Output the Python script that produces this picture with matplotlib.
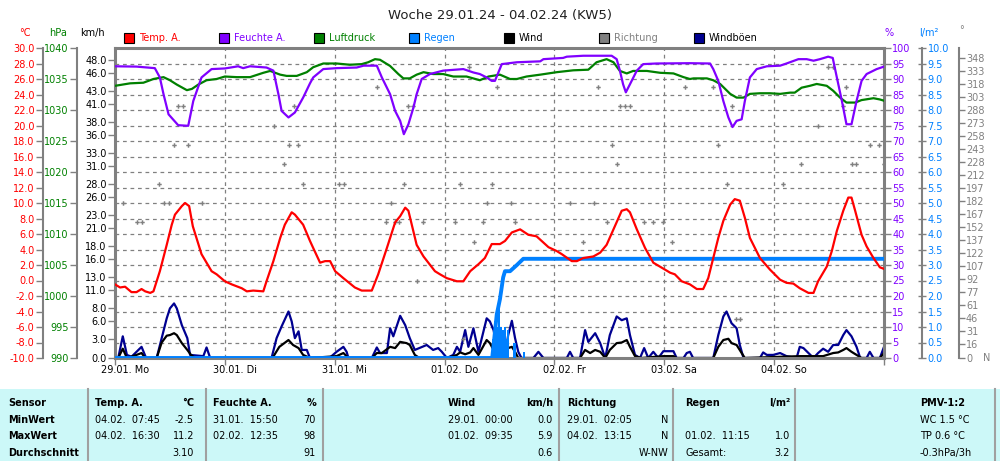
import matplotlib
matplotlib.use('Agg')
import matplotlib.pyplot as plt
from matplotlib.patches import Rectangle
from matplotlib.lines import Line2D
from matplotlib.ticker import MultipleLocator, FormatStrFormatter

# ---- data (hours since 29.01. 00:00) ----
temp_h = [0, 1.1, 2.2, 3.6, 4.7, 5.8, 6.6, 7.7, 8.4, 9.8,
          11.3, 12.4, 13.1, 14.6, 15.3, 16.2, 17.0, 18.9, 21.1, 22.2,
          24.0, 25.5, 27.7, 28.8, 30.2, 32.4, 33.1, 34.6, 36.1, 37.1,
          38.6, 39.3, 41.1, 42.6, 43.3, 44.8, 45.9, 47.0, 48.1, 49.9,
          52.4, 53.9, 56.1, 57.5, 59.4, 61.2, 62.3, 63.4, 64.1, 65.9,
          67.4, 69.9, 71.0, 72.5, 74.7, 76.1, 77.6, 79.4, 80.8, 82.3,
          84.1, 85.2, 86.7, 88.5, 90.3, 92.1, 94.7, 96.5, 97.6, 99.8,
          100.9, 102.3, 104.5, 106.0, 107.4, 109.2, 110.7, 111.8, 112.5, 114.0,
          115.8, 117.6, 121.3, 122.3, 123.8, 125.6, 127.1, 128.5, 129.6, 130.7,
          131.8, 132.9, 134.4, 135.4, 136.5, 137.6, 138.7, 140.9, 143.1, 145.3,
          146.7, 148.2, 149.6, 151.5, 152.6, 153.6, 155.5, 156.6, 157.7, 159.1,
          160.2, 160.9, 161.7, 163.1, 164.2, 165.7, 167.1, 168]
temp = [-0.5, -0.9, -0.8, -1.5, -1.5, -1.1, -1.4, -1.6, -1.4, 1.2,
        4.6, 7.2, 8.5, 9.6, 10.0, 9.6, 7.0, 3.4, 1.2, 0.8,
        -0.1, -0.5, -1.0, -1.4, -1.3, -1.4, -0.1, 2.5, 5.5, 7.2,
        8.8, 8.5, 7.2, 5.1, 4.2, 2.3, 2.5, 2.5, 1.2, 0.3,
        -0.9, -1.3, -1.3, 0.8, 4.2, 7.5, 8.3, 9.4, 9.0, 4.6,
        3.1, 1.2, 0.8, 0.3, -0.1, -0.1, 1.2, 2.1, 2.9, 4.7,
        4.7, 5.1, 6.2, 6.6, 5.9, 5.7, 4.3, 3.8, 3.4, 2.5,
        2.5, 2.9, 3.1, 3.6, 4.6, 7.0, 9.0, 9.2, 8.8, 6.6,
        4.2, 2.3, 1.0, 0.8, -0.1, -0.5, -1.1, -1.1, 0.3, 2.9,
        5.5, 7.7, 9.8, 10.5, 10.3, 8.1, 5.5, 2.9, 1.4, 0.1,
        -0.3, -0.4, -1.0, -1.6, -1.6, -0.1, 1.8, 3.8, 6.4, 9.0,
        10.7, 10.7, 9.0, 5.9, 4.4, 2.9, 1.7, 1.5]

hum_h = [0, 4.7, 8.7, 9.8, 10.6, 11.7, 13.8, 16.0, 17.1, 18.9,
         21.1, 24.0, 26.9, 28.0, 29.5, 33.1, 34.6, 35.7, 36.4, 37.9,
         39.3, 41.1, 42.6, 43.3, 45.5, 48.4, 52.8, 54.3, 57.2, 58.3,
         60.1, 61.2, 62.3, 63.1, 64.1, 65.2, 65.9, 67.0, 68.8, 71.7,
         76.1, 78.3, 79.7, 81.2, 82.3, 83.0, 84.5, 87.8, 92.9, 93.6,
         97.9, 98.7, 102.3, 108.5, 109.6, 110.3, 111.0, 111.6, 112.5, 114.0,
         115.4, 118.3, 125.6, 130.0, 130.7, 131.8, 132.9, 134.0, 134.9, 135.8,
         136.9, 137.6, 138.7, 140.2, 142.4, 145.3, 146.7, 149.3, 151.1, 152.6,
         154.0, 155.8, 156.8, 157.7, 158.8, 159.8, 160.9, 162.0, 163.1, 164.2,
         166.4, 168]
hum = [94.1, 94.0, 93.5, 90.5, 85.1, 78.6, 75.1, 74.9, 82.9, 90.5,
       93.2, 93.4, 94.1, 93.5, 94.1, 93.7, 92.7, 85.1, 79.7, 77.6,
       79.2, 84.0, 88.6, 90.5, 93.2, 93.5, 93.7, 94.3, 94.3, 90.5,
       85.1, 79.7, 76.5, 72.2, 75.4, 80.8, 85.1, 90.0, 91.6, 92.7,
       93.2, 92.1, 91.6, 90.5, 89.4, 89.4, 94.8, 95.4, 95.7, 96.4,
       96.8, 97.2, 97.5, 97.5, 96.4, 92.7, 88.3, 85.7, 88.3, 92.7,
       94.8, 95.0, 95.1, 95.0, 93.2, 89.4, 82.9, 77.6, 74.5, 76.5,
       77.0, 82.9, 90.5, 93.2, 94.1, 94.3, 95.0, 96.4, 96.4, 95.9,
       96.4, 97.2, 96.8, 90.5, 82.9, 75.4, 75.4, 82.9, 89.4, 91.6,
       93.2, 94.0]

pres_h = [0, 3.3, 6.2, 8.4, 10.6, 12.0, 13.5, 15.7, 16.8, 18.2,
          20.0, 22.2, 24.0, 26.6, 29.5, 32.4, 33.9, 36.1, 37.5, 39.7,
          41.9, 43.3, 45.5, 48.4, 51.3, 53.9, 55.3, 56.8, 57.9, 60.1,
          61.9, 63.0, 64.4, 65.9, 67.4, 69.5, 71.7, 73.9, 76.8, 79.7,
          81.6, 84.1, 86.3, 87.8, 89.9, 92.9, 96.5, 100.1, 103.4, 105.2,
          107.4, 108.9, 110.3, 111.8, 113.2, 116.2, 119.1, 122.0, 124.2, 125.6,
          126.4, 129.3, 130.7, 132.2, 134.4, 135.8, 137.3, 138.7, 140.9, 143.1,
          145.3, 147.5, 148.5, 150.0, 151.8, 153.3, 155.5, 156.9, 158.4, 159.8,
          161.7, 163.1, 165.7, 167.1, 168]
pres = [1033.9, 1034.3, 1034.4, 1035.0, 1035.3, 1034.8, 1034.1, 1033.2, 1033.4, 1034.1,
        1034.8, 1035.0, 1035.4, 1035.3, 1035.3, 1036.0, 1036.3, 1035.7, 1035.5, 1035.5,
        1036.1, 1036.9, 1037.5, 1037.5, 1037.3, 1037.4, 1037.7, 1038.2, 1038.1, 1037.1,
        1035.8, 1035.1, 1035.1, 1035.7, 1036.1, 1035.8, 1035.8, 1035.4, 1035.4, 1034.8,
        1035.4, 1035.7, 1035.0, 1035.0, 1035.4, 1035.7, 1036.1, 1036.4, 1036.5, 1037.7,
        1038.2, 1037.7, 1036.3, 1035.9, 1036.3, 1036.3, 1036.0, 1035.9, 1035.3, 1035.0,
        1035.1, 1035.1, 1034.8, 1034.2, 1032.6, 1032.0, 1032.0, 1032.6, 1032.7, 1032.7,
        1032.6, 1032.8, 1032.8, 1033.6, 1033.9, 1034.2, 1033.9, 1033.1, 1032.0, 1031.2,
        1031.2, 1031.6, 1031.9, 1031.7, 1031.5]

gust_h = [0, 0.7, 1.7, 2.6, 3.6, 4.7, 5.8, 6.8, 9.1, 10.2,
          11.3, 12.0, 12.9, 13.5, 14.6, 15.8, 16.4, 19.3, 20.0, 20.8,
          34.2, 35.3, 36.4, 37.9, 38.6, 39.3, 40.1, 40.8, 41.9, 42.6,
          47.0, 48.4, 49.9, 50.6, 51.0, 56.1, 57.2, 57.9, 59.4, 60.1,
          60.8, 62.3, 63.4, 64.4, 65.5, 68.1, 69.5, 70.6, 71.4, 72.5,
          73.9, 74.7, 75.4, 76.5, 77.2, 78.3, 79.4, 81.2, 81.9, 82.7,
          83.4, 84.1, 85.2, 85.9, 86.7, 87.4, 88.1, 88.8, 91.4, 92.5,
          93.6, 98.7, 99.4, 100.1, 101.6, 102.7, 103.4, 104.9, 106.0, 107.1,
          108.1, 109.6, 110.7, 111.8, 112.5, 113.6, 114.7, 115.6, 116.5, 117.6,
          118.7, 119.8, 122.0, 122.7, 124.2, 124.9, 125.6, 126.3, 130.7, 131.8,
          132.9, 133.6, 134.7, 135.8, 136.5, 137.3, 140.9, 141.6, 142.4, 143.8,
          145.3, 146.7, 148.9, 149.6, 150.4, 151.5, 152.6, 153.6, 154.7, 155.8,
          156.9, 158.0, 159.1, 159.8, 160.9, 162.0, 162.8, 164.2, 164.9, 165.7,
          167.1, 168]
gust = [0, 0, 3.5, 0.5, 0.2, 1.0, 1.8, 0, 0, 3.2,
        6.4, 8.0, 8.8, 8.0, 5.3, 3.2, 0.5, 0.3, 1.7, 0,
        0, 3.2, 5.1, 7.5, 5.9, 3.2, 4.3, 1.3, 1.3, 0,
        0.1, 1.0, 1.8, 1.0, 0, 0, 1.7, 0.8, 0.8, 4.8,
        3.5, 6.8, 5.3, 3.2, 1.3, 2.1, 1.3, 1.6, 1.0, 0,
        0.5, 1.8, 1.0, 4.5, 1.8, 4.8, 1.0, 6.4, 5.9, 4.5,
        1.8, 0.5, 0.5, 3.7, 6.0, 3.2, 1.0, 0, 0, 1.0,
        0, 0, 1.0, 0, 0, 4.5, 2.6, 4.0, 2.4, 0,
        3.7, 6.7, 6.1, 6.4, 3.7, 0.5, 0, 1.6, 0, 1.0,
        0, 1.1, 1.1, 0, 0, 0.8, 1.0, 0, 0, 3.7,
        6.7, 7.5, 5.6, 4.8, 2.1, 0, 0, 0.9, 0.5, 0.5,
        0.8, 0.3, 0, 1.8, 1.6, 0.8, 0, 0.8, 1.5, 1.0,
        2.1, 2.1, 3.7, 4.5, 3.5, 1.8, 0, 0, 1.0, 0,
        0, 1.8]

wind_h = [0, 0.7, 1.7, 2.6, 4.7, 5.8, 6.6, 9.1, 10.2, 11.3,
          12.0, 12.9, 13.5, 14.6, 15.8, 16.6, 17.5, 34.4, 35.9, 37.9,
          38.9, 40.1, 41.1, 42.6, 48.4, 49.9, 51.0, 56.1, 57.2, 58.3,
          60.1, 61.2, 62.3, 63.7, 64.4, 65.5, 66.5, 72.5, 74.7, 75.4,
          76.5, 77.6, 78.3, 79.4, 81.2, 81.9, 82.7, 83.4, 85.2, 85.9,
          86.7, 87.4, 88.1, 101.6, 102.7, 103.8, 104.9, 106.0, 107.1, 108.1,
          109.6, 110.7, 111.8, 112.5, 113.6, 115.0, 119.8, 122.0, 122.7, 130.7,
          131.8, 132.9, 134.0, 134.7, 135.8, 136.9, 137.6, 149.6, 154.7, 156.9,
          158.0, 159.1, 159.8, 160.9, 162.0, 163.1, 167.1, 168]
wind = [0, 0, 1.5, 0, 0.5, 0.8, 0, 0, 2.5, 3.6,
        3.7, 4.0, 3.7, 2.4, 1.3, 0.5, 0, 0, 1.8, 2.9,
        2.1, 1.6, 0.5, 0, 0.3, 0.8, 0, 0, 0.8, 0.8,
        1.8, 1.6, 2.6, 2.4, 2.1, 0.5, 0, 0, 0.5, 0.9,
        0.6, 0.9, 1.6, 0.5, 2.9, 2.4, 1.3, 0.5, 0.5, 1.6,
        1.8, 1.0, 0, 0, 1.3, 0.8, 1.3, 1.0, 0, 1.3,
        2.4, 2.5, 2.9, 1.8, 0.3, 0, 0.3, 0.3, 0, 0,
        1.8, 2.9, 3.1, 2.4, 2.1, 0.8, 0, 0.3, 0.3, 0.8,
        0.9, 1.3, 1.6, 1.0, 0.5, 0, 0, 0.8]

dir_h = [1.7, 4.7, 5.8, 9.7, 10.8, 11.8, 12.9, 13.8, 14.8, 15.9,
         18.9, 34.8, 37.0, 38.0, 39.0, 39.9, 41.0, 49.0, 50.1, 57.2,
         59.2, 60.2, 61.2, 62.1, 63.1, 64.1, 65.2, 66.0, 67.2, 74.3,
         75.4, 76.1, 77.3, 78.4, 80.3, 81.2, 82.3, 83.4, 86.5, 87.4,
         99.4, 102.3, 104.6, 105.5, 107.4, 108.5, 109.6, 110.3, 111.4, 112.5,
         115.6, 117.5, 119.7, 121.6, 124.6, 130.6, 131.7, 133.6, 134.7, 135.6,
         136.6, 145.9, 149.8, 153.6, 155.8, 156.8, 159.1, 159.8, 160.9, 161.9,
         164.9, 167.0, 167.9]
dir_deg = [180, 157.5, 157.5, 202.5, 180, 180, 247.5, 292.5, 292.5, 247.5,
           180, 270, 225, 247.5, 292.5, 247.5, 202.5, 202.5, 202.5, 315,
           157.5, 180, 157.5, 157.5, 202.5, 292.5, 292.5, 90, 157.5, 157.5,
           202.5, 22.5, 337.5, 135, 157.5, 180, 202.5, 315, 180, 157.5,
           180, 135, 180, 315, 157.5, 247.5, 225, 292.5, 292.5, 292.5,
           157.5, 157.5, 157.5, 135, 315, 315, 247.5, 202.5, 292.5, 45,
           45, 202.5, 225, 270, 337.5, 337.5, 292.5, 315, 225, 225,
           247.5, 247.5, 225]

rain_cum_h = [0, 82.4, 82.7, 83.4, 84.1, 84.8, 85.2, 86.3, 87.8, 89.2, 168]
rain_cum = [0, 0, 0.4, 1.4, 1.9, 2.6, 2.8, 2.8, 3.0, 3.2, 3.2]
rain_bar_h = [82.6, 83.0, 83.4, 83.9, 84.3, 84.8, 85.2, 85.6, 85.8, 87.2, 87.5, 89.4]
rain_bar = [0.6, 1.2, 1.0, 1.9, 1.0, 0.9, 1.0, 0.6, 0.9, 0.5, 0.5, 0.2]

day_h = [0, 24, 48, 72, 96, 120, 144, 168]
day_labels = ['29.01. Mo', '30.01. Di', '31.01. Mi', '01.02. Do',
              '02.02. Fr', '03.02. Sa', '04.02. So']

wind_ticks = [0, 3, 6, 8, 11, 13, 16, 18, 21, 23, 26, 28, 31, 33, 36, 38, 41, 43, 46, 48]
dir_ticks = [0, 16, 31, 46, 61, 77, 92, 107, 122, 137, 152, 167, 182, 197, 212,
             228, 243, 258, 273, 288, 303, 318, 333, 348]

legend_names = ['Temp. A.', 'Feuchte A.', 'Luftdruck', 'Regen', 'Wind', 'Richtung', 'Windböen']
legend_colors = ['#FF0000', '#8000FF', '#008000', '#0080FF', '#000000', '#808080', '#000090']
legend_text_colors = ['#FF0000', '#8000FF', '#008000', '#0080FF', '#000000', '#808080', '#000000']

# ---- figure ----
plt.rcParams['font.family'] = 'DejaVu Sans'
W, H = 1000, 461
FS = 7
GRAY = '#808080'
fig = plt.figure(figsize=(W / 100, H / 100), dpi=100)


def fx(px):
    return px / W


def fy(py):
    return 1 - py / H


L, R, T, B = 115, 884, 48, 358
ax = fig.add_axes([fx(L), fy(B), (R - L) / W, (B - T) / H])
ax.set_xlim(0, 168)
ax.set_ylim(0, 50)
for s in ax.spines.values():
    s.set_color(GRAY)
    s.set_linewidth(2.2)
ax.set_yticks(wind_ticks)
ax.yaxis.set_major_formatter(FormatStrFormatter('%.1f'))
ax.yaxis.set_minor_locator(MultipleLocator(2.5))
ax.tick_params(axis='y', which='major', labelsize=FS, colors=GRAY, labelcolor='black',
               length=5, width=1, pad=1)
ax.tick_params(axis='y', which='minor', length=0)
ax.set_xticks(day_h)
ax.set_xticklabels([])
ax.tick_params(axis='x', length=5, width=1, colors=GRAY)
ax.grid(axis='y', which='minor', color=GRAY, ls=(0, (3, 3)), lw=0.9)
ax.grid(axis='x', which='major', color=GRAY, ls=(0, (3, 3)), lw=0.9)
ax.set_axisbelow(True)

ax.plot(gust_h, gust, color='#000090', lw=1.6)
ax.plot(wind_h, wind, color='black', lw=1.6)

for i, lab in enumerate(day_labels):
    ax.text(day_h[i] + 2.2, -0.04, lab, transform=ax.get_xaxis_transform(),
            ha='center', va='center', fontsize=FS)


def side_axis(side, pos, lo, hi):
    a = ax.twinx()
    a.set_ylim(lo, hi)
    for s in a.spines.values():
        s.set_visible(False)
    a.spines[side].set_visible(True)
    a.spines[side].set_position(('axes', pos))
    a.spines[side].set_color(GRAY)
    a.spines[side].set_linewidth(1.5)
    a.yaxis.set_ticks_position(side)
    a.yaxis.set_label_position(side)
    return a


# direction
ax_d = side_axis('right', (959 - L) / (R - L), 0, 360)
ax_d.set_yticks(dir_ticks)
ax_d.tick_params(axis='y', labelsize=FS, colors=GRAY, length=4, width=1, pad=1)
ax_d.plot(dir_h, dir_deg, ls='none', marker='P', ms=3.2, mew=0, color=GRAY)

# rain
ax_r = side_axis('right', (922 - L) / (R - L), 0, 10)
ax_r.set_yticks([i * 0.5 for i in range(21)])
ax_r.yaxis.set_major_formatter(FormatStrFormatter('%.1f'))
ax_r.tick_params(axis='y', labelsize=FS, colors=GRAY, labelcolor='#0080FF',
                 direction='inout', length=6, width=1, pad=1)
ax_r.bar(rain_bar_h, rain_bar, width=0.4, color='#0080FF', lw=0)
ax_r.plot(rain_cum_h, rain_cum, color='#0080FF', lw=2.8)

# pressure
ax_p = side_axis('left', (77 - L) / (R - L), 990, 1040)
ax_p.set_yticks(range(990, 1041, 5))
ax_p.tick_params(axis='y', labelsize=FS, colors=GRAY, labelcolor='#008000',
                 length=5, width=1, pad=1)
ax_p.plot(pres_h, pres, color='#008000', lw=1.6)

# humidity
ax_h = side_axis('right', 1.0, 0, 100)
ax_h.spines['right'].set_visible(False)
ax_h.set_yticks(range(0, 101, 5))
ax_h.tick_params(axis='y', labelsize=FS, colors=GRAY, labelcolor='#8000FF',
                 length=5, width=1, pad=1)
ax_h.plot(hum_h, hum, color='#8000FF', lw=1.6)

# temperature
ax_t = side_axis('left', (43 - L) / (R - L), -10, 30)
ax_t.set_yticks(range(-10, 31, 2))
ax_t.yaxis.set_major_formatter(FormatStrFormatter('%.1f'))
ax_t.tick_params(axis='y', labelsize=FS, colors=GRAY, labelcolor='#FF0000',
                 length=5, width=1, pad=1)
ax_t.plot(temp_h, temp, color='#FF0000', lw=1.6)

# units
fig.text(fx(25), fy(33), '°C', color='#FF0000', fontsize=FS, ha='center', va='center')
fig.text(fx(58), fy(33), 'hPa', color='#008000', fontsize=FS, ha='center', va='center')
fig.text(fx(92), fy(33), 'km/h', color='black', fontsize=FS, ha='center', va='center')
fig.text(fx(889), fy(33), '%', color='#8000FF', fontsize=FS, ha='center', va='center')
fig.text(fx(929), fy(33), 'l/m²', color='#0080FF', fontsize=FS, ha='center', va='center')
fig.text(fx(961), fy(30), '°', color=GRAY, fontsize=FS, ha='center', va='center')
fig.text(fx(983), fy(358), 'N', color=GRAY, fontsize=FS, ha='left', va='center')

# title
fig.text(0.5, fy(15), 'Woche 29.01.24 - 04.02.24 (KW5)', fontsize=9.5,
         ha='center', va='center', color='#202020')

# legend row
for i, name in enumerate(legend_names):
    x0 = 124 + 95 * i
    fig.add_artist(Rectangle((fx(x0), fy(43)), 10 / W, 10 / H, transform=fig.transFigure,
                             facecolor=legend_colors[i], edgecolor='black', lw=0.8))
    fig.text(fx(x0 + 15), fy(38), name, color=legend_text_colors[i], fontsize=FS,
             ha='left', va='center')

# ---- summary table ----
fig.add_artist(Rectangle((0, 0), 1, fy(389), transform=fig.transFigure,
                         facecolor='#CCF8F8', edgecolor='none', zorder=0))
for xs in [88, 206, 323, 559, 673, 795, 995]:
    fig.add_artist(Line2D([fx(xs), fx(xs)], [fy(389), 0], transform=fig.transFigure,
                          color='#A0A0A0', lw=1.5))

row_y = [403, 419.5, 436, 452.5]
row_names = ['Sensor', 'MinWert', 'MaxWert', 'Durchschnitt']
for y, t in zip(row_y, row_names):
    fig.text(fx(8), fy(y), t, fontsize=FS, fontweight='bold', ha='left', va='center')

blocks = [
    (95, 194, ['Temp. A.', '04.02.  07:45', '04.02.  16:30', ''], ['°C', '-2.5', '11.2', '3.10']),
    (213, 316, ['Feuchte A.', '31.01.  15:50', '02.02.  12:35', ''], ['%', '70', '98', '91']),
    (448, 553, ['Wind', '29.01.  00:00', '01.02.  09:35', ''], ['km/h', '0.0', '5.9', '0.6']),
    (567, 668, ['Richtung', '29.01.  02:05', '04.02.  13:15', ''], ['', 'N', 'N', 'W-NW']),
    (685, 790, ['Regen', '', '01.02.  11:15', 'Gesamt:'], ['l/m²', '', '1.0', '3.2']),
    (920, 990, ['PMV-1:2', 'WC 1.5 °C', 'TP 0.6 °C', '-0.3hPa/3h'], ['', '', '', '']),
]
for xl, xr, lefts, rights in blocks:
    for k in range(4):
        w = 'bold' if k == 0 else 'normal'
        fig.text(fx(xl), fy(row_y[k]), lefts[k], fontsize=FS, fontweight=w,
                 ha='left', va='center')
        fig.text(fx(xr), fy(row_y[k]), rights[k], fontsize=FS, fontweight=w,
                 ha='right', va='center')

fig.savefig('out.png', dpi=100, facecolor='white')
